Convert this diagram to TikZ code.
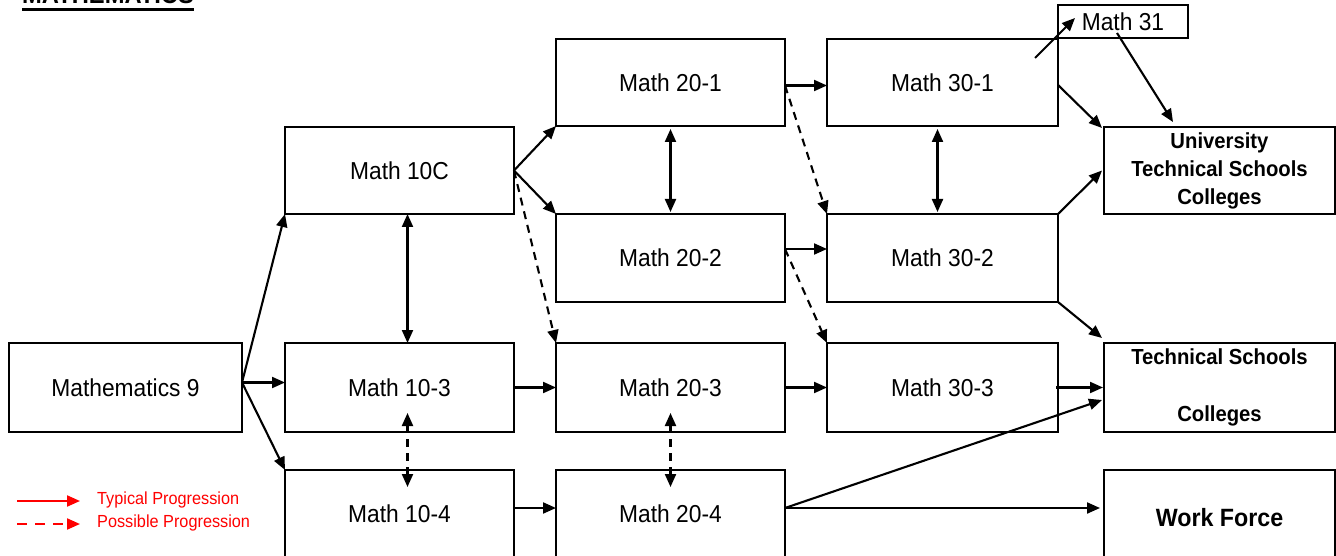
\documentclass[tikz,border=0pt]{standalone}
\usepackage{fontspec}
\setmainfont{Liberation Sans}[FakeStretch=0.93]
\usetikzlibrary{arrows.meta}
\begin{document}
\begin{tikzpicture}[x=1pt,y=-1pt,
  box/.style={draw, line width=1.8pt, inner sep=0pt, outer sep=0pt,
    minimum width=229pt, minimum height=87pt, font=\fontsize{24.5}{29}\selectfont},
  widebox/.style={box, minimum width=231pt},
  boldbox/.style={widebox, align=center, font=\bfseries\fontsize{21.8}{28}\selectfont},
  arr/.style={line width=2.1pt, -{Triangle[length=13pt,width=11pt]}},
  darr/.style={arr, dash pattern=on 8pt off 6pt},
  both/.style={line width=2.1pt, {Triangle[length=13pt,width=11pt]}-{Triangle[length=13pt,width=11pt]}},
  dboth/.style={both, dash pattern=on 8pt off 6pt},
  legendtext/.style={anchor=west, inner sep=0pt, text=red, font=\fontsize{17.5}{20}\selectfont}
]
\useasboundingbox (0,0) rectangle (1336,556);

% title (cut off at the top)
\node[anchor=base west, inner sep=0pt, font=\bfseries\fontsize{25.5}{30}\selectfont] (title) at (22,4) {MATHEMATICS};
\draw[line width=3pt] ([yshift=-6pt]title.base west) -- ([yshift=-6pt]title.base east);

% boxes
\node[box, minimum width=233pt, minimum height=89pt] (m9) at (125.5,387.5) {Mathematics 9};

\node[box] (m10c) at (399.5,170.5) {Math 10C};
\node[box, minimum height=89pt] (m103) at (399.5,387.5) {Math 10-3};
\node[box, minimum height=88pt] (m104) at (399.5,514) {Math 10-4};

\node[box] (m201) at (670.5,82.5) {Math 20-1};
\node[box, minimum height=88pt] (m202) at (670.5,258) {Math 20-2};
\node[box, minimum height=89pt] (m203) at (670.5,387.5) {Math 20-3};
\node[box, minimum height=88pt] (m204) at (670.5,514) {Math 20-4};

\node[widebox] (m301) at (942.5,82.5) {Math 30-1};
\node[widebox, minimum height=88pt] (m302) at (942.5,258) {Math 30-2};
\node[widebox, minimum height=89pt] (m303) at (942.5,387.5) {Math 30-3};

\node[box, minimum width=130pt, minimum height=33pt] (m31) at (1123,21.5) {Math 31};

\node[boldbox] (univ) at (1219.5,170.5) {University\\Technical Schools\\Colleges};
\node[boldbox, minimum height=89pt] (tech) at (1219.5,387.5) {Technical Schools\\[29pt]Colleges};
\node[widebox, minimum height=96pt, font=\bfseries\fontsize{25}{30}\selectfont] (wf) at (1219.5,518) {Work Force};

% from Mathematics 9
\coordinate (m9o) at ([yshift=5pt]m9.east);
\draw[arr] (m9o) -- (m10c.south west);
\draw[arr] (m9o) -- (m9o -| m103.west);
\draw[arr] (m9o) -- (m104.north west);

% from Math 10C
\draw[arr] (m10c.east) -- (m201.south west);
\draw[arr] (m10c.east) -- (m202.north west);
\draw[darr] (m10c.east) -- (m203.north west);

% vertical double arrows
\draw[both] ([xshift=8pt]m10c.south) -- ([xshift=8pt]m103.north);
\draw[dboth] ([xshift=8pt,yshift=19pt]m103.south) -- ([xshift=8pt,yshift=-17pt]m104.north);
\draw[both, shorten <=3pt, shorten >=2pt] (m201.south) -- (m202.north);
\draw[dboth] ([yshift=19pt]m203.south) -- ([yshift=-17pt]m204.north);
\draw[both, shorten <=3pt, shorten >=2pt] ([xshift=-5pt]m301.south) -- ([xshift=-5pt]m302.north);

% 10 -> 20
\draw[arr] (m103.east) -- (m203.west);
\draw[arr] ([yshift=6pt]m104.east) -- ([yshift=6pt]m204.west);

% 20 -> 30
\coordinate (m201o) at ([yshift=-3pt]m201.east);
\draw[arr] (m201o) -- (m201o -| m301.west);
\draw[darr] (m201o) -- (m302.north west);
\coordinate (m202o) at ([yshift=9pt]m202.east);
\draw[arr] (m202o) -- (m202o -| m302.west);
\draw[darr] (m202o) -- (m303.north west);
\draw[arr] (m203.east) -- (m303.west);

% from Math 20-4
\coordinate (m204o) at ([yshift=6pt]m204.east);
\draw[arr] (m204o) -- ([xshift=-4pt,yshift=10pt]wf.west);
\draw[arr] (m204o) -- ([xshift=-2pt,yshift=-12.5pt]tech.west);

% 30 -> destinations
\draw[arr] ([xshift=-2pt]m303.east) -- ([xshift=-1pt]tech.west);
\draw[arr] (m302.north east) -- ([xshift=-2pt]univ.west);
\draw[arr] (m302.south east) -- ([xshift=-2pt,yshift=5pt]tech.north west);
\draw[arr] ([yshift=-2.5pt]m301.east) -- ([xshift=-2pt,yshift=-1pt]univ.north west);
\draw[arr] ([xshift=-23pt,yshift=-19pt]m301.north east) -- ([xshift=17pt,yshift=3.5pt]m31.west);
\draw[arr] ([xshift=-6pt,yshift=5pt]m31.south) -- ([xshift=-46.5pt,yshift=5pt]univ.north);

% legend
\node[legendtext] (lt) at (97,500) {Typical Progression};
\node[legendtext] (lp) at (97,523) {Possible Progression};
\coordinate (lts) at (17,501);
\coordinate (lps) at (17,524);
\draw[arr, red] (lts) -- ([xshift=-17pt]lt.west |- lts);
\draw[darr, red, dash pattern=on 10pt off 8pt] (lps) -- ([xshift=-17pt]lp.west |- lps);
\end{tikzpicture}
\end{document}
